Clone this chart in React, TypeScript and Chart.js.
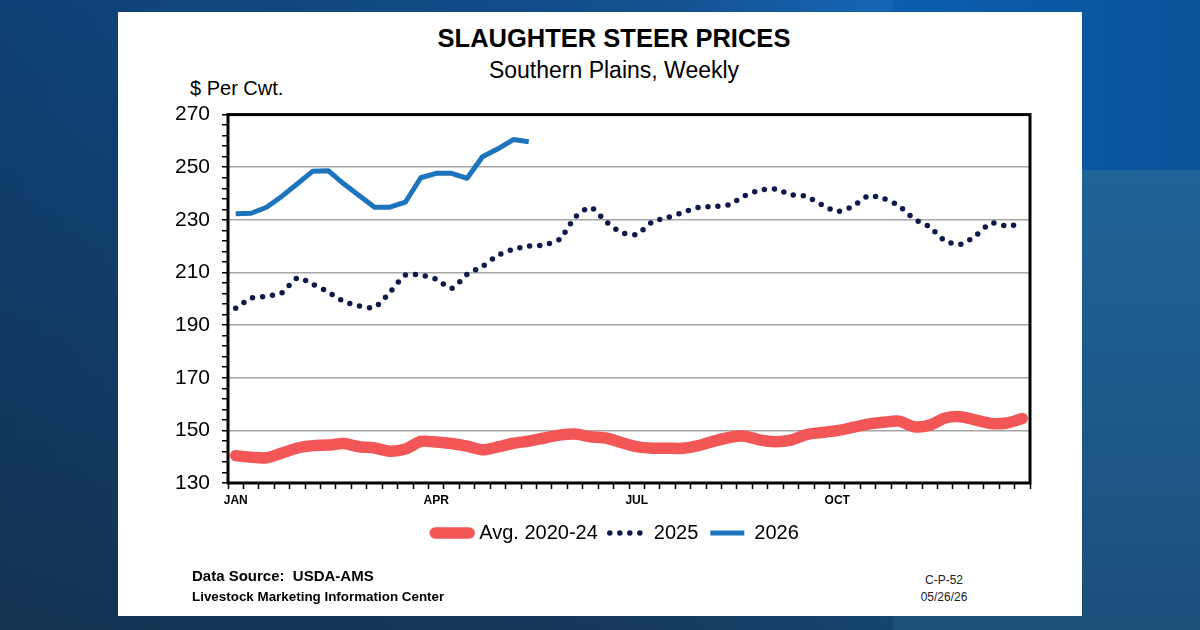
import React, { useEffect, useRef } from 'react';
import { Chart, registerables } from 'chart.js';

Chart.register(...registerables);

const FONT = "'Liberation Sans', Arial, Helvetica, sans-serif";

// 52 weekly categories
const weekNumbers = Array.from({ length: 52 }, (_, i) => `Week ${i + 1}`);

// x tick labels and the week index they sit on
const monthLabels = ['JAN', 'APR', 'JUL', 'OCT'];
const monthWeekIndex = [0, 13, 26, 39];

// $ per cwt
const avg2020to24 = [
  140.4, 139.8, 139.6, 141.4, 143.3, 144.2, 144.4, 145.0, 143.8, 143.3,
  142.1, 142.9, 145.8, 145.6, 145.0, 144.0, 142.6, 143.7, 145.1, 145.9,
  147.1, 148.2, 148.6, 147.6, 147.1, 145.4, 143.8, 143.2, 143.2, 143.2,
  144.2, 145.9, 147.3, 147.8, 146.3, 145.7, 146.3, 148.4, 149.2, 149.9,
  151.1, 152.4, 153.1, 153.5, 151.4, 152.0, 154.7, 155.2, 153.9, 152.6,
  152.8, 154.5,
];

const y2025 = [
  196.4, 200.2, 201.0, 202.3, 207.9, 205.5, 202.6, 199.0, 197.3, 196.8,
  202.5, 209.0, 209.0, 207.4, 204.0, 209.3, 212.3, 216.5, 218.8, 220.0,
  220.5, 222.6, 230.9, 234.7, 229.4, 225.2, 224.5, 229.2, 230.9, 232.8,
  234.7, 235.1, 235.8, 239.1, 241.3, 241.7, 239.6, 238.9, 235.7, 233.2,
  235.1, 239.0, 238.1, 235.3, 230.3, 227.3, 222.0, 220.7, 224.1, 228.8,
  227.7, 228.6,
];

const y2026 = [
  232.3, 232.5, 234.8, 239.0, 243.7, 248.5, 248.7, 243.7, 239.3, 234.8,
  234.8, 236.7, 246.0, 247.7, 247.7, 245.8, 254.0, 257.0, 260.5, 259.7,
];

const framePlugin = {
  id: 'plotFrame',
  afterDatasetsDraw(chart: any) {
    const { ctx, chartArea } = chart;
    const { left, top, right, bottom } = chartArea;
    ctx.save();
    ctx.strokeStyle = '#000';
    ctx.lineWidth = 3;
    ctx.strokeRect(left, top, right - left, bottom - top);
    ctx.restore();
  },
};

// nudge the legend row a little left, as in the original layout
const legendShiftPlugin = {
  id: 'legendShift',
  afterLayout(chart: any) {
    const lg = chart.legend;
    if (lg) {
      lg.left -= 12;
      lg.right -= 12;
    }
  },
};

function SteerChart() {
  const ref = useRef<HTMLCanvasElement | null>(null);

  useEffect(() => {
    if (!ref.current) return;
    const chart = new Chart(ref.current, {
      type: 'line',
      data: {
        labels: weekNumbers,
        datasets: [
          {
            label: 'Avg. 2020-24',
            data: avg2020to24,
            borderColor: '#F25656',
            backgroundColor: '#F25656',
            borderWidth: 11.5,
            borderCapStyle: 'round',
            borderJoinStyle: 'round',
            pointRadius: 0,
            tension: 0.25,
          },
          {
            label: '2025',
            data: y2025,
            borderColor: '#0E1A4A',
            backgroundColor: '#0E1A4A',
            borderWidth: 5.5,
            borderDash: [0, 10],
            borderCapStyle: 'round',
            borderJoinStyle: 'round',
            pointRadius: 0,
            tension: 0.25,
          },
          {
            label: '2026',
            data: y2026,
            borderColor: '#1C75BC',
            backgroundColor: '#1C75BC',
            borderWidth: 5,
            borderCapStyle: 'butt',
            borderJoinStyle: 'round',
            pointRadius: 0,
            tension: 0,
          },
        ],
      },
      options: {
        responsive: false,
        animation: false,
        layout: { padding: { top: 0, right: 50, bottom: 17, left: 0 } },
        plugins: {
          title: { display: false },
          tooltip: { enabled: false },
          legend: {
            position: 'bottom',
            fullSize: false,
            labels: {
              usePointStyle: true,
              pointStyle: 'line',
              pointStyleWidth: 34,
              padding: 12,
              color: '#000',
              font: { family: FONT, size: 20 },
              generateLabels: (chart: any) => {
                const items = (Chart.defaults as any).plugins.legend.labels.generateLabels(chart);
                items.forEach((it: any) => {
                  const ds: any = chart.data.datasets[it.datasetIndex];
                  it.lineDash = ds.borderDash || [];
                  it.lineCap = ds.borderCapStyle || 'butt';
                  it.lineWidth = ds.borderWidth;
                  it.strokeStyle = ds.borderColor;
                });
                return items;
              },
            },
          },
        },
        scales: {
          x: {
            type: 'category',
            offset: true,
            border: { display: false },
            grid: {
              offset: true,
              drawOnChartArea: false,
              drawTicks: true,
              tickLength: 6,
              tickColor: '#000',
              tickWidth: 1.5,
            },
            ticks: {
              autoSkip: false,
              maxRotation: 0,
              minRotation: 0,
              padding: 4,
              color: '#000',
              font: { family: FONT, size: 12, weight: 'bold' },
              callback: (_v: any, i: number) => {
                const k = monthWeekIndex.indexOf(i);
                return k >= 0 ? monthLabels[k] : '';
              },
            },
            afterFit: (s: any) => {
              s.height = 28;
            },
          },
          y: {
            min: 130,
            max: 270,
            border: { display: false },
            grid: {
              color: (c: any) => {
                const v = c.tick ? c.tick.value : undefined;
                if (v === undefined) return 'rgba(0,0,0,0)';
                return (v - 130) % 20 === 0 && v !== 130 && v !== 270 ? '#A6A6A6' : 'rgba(0,0,0,0)';
              },
              lineWidth: 1.5,
              tickLength: 6,
              tickColor: '#000',
              tickWidth: 1.5,
            },
            ticks: {
              stepSize: 4,
              autoSkip: false,
              padding: 12,
              color: '#000',
              font: { family: FONT, size: 21 },
              callback: (v: any) => ((Number(v) - 130) % 20 === 0 ? String(v) : ''),
            },
            afterFit: (s: any) => {
              s.width = 78;
            },
          },
        },
      },
      plugins: [framePlugin, legendShiftPlugin],
    } as any);
    return () => chart.destroy();
  }, []);

  return <canvas ref={ref} width={930} height={480} style={{ width: 930, height: 480, display: 'block' }} />;
}

export default function App() {
  const abs = (l: number, t: number, extra: any = {}) => ({ position: 'absolute' as const, left: l, top: t, ...extra });
  return (
    <div
      style={{
        position: 'absolute',
        left: 0,
        top: 0,
        width: 1200,
        height: 630,
        overflow: 'hidden',
        fontFamily: FONT,
        background:
          'linear-gradient(180deg, rgba(0,0,0,0) 0%, rgba(22,40,52,0.55) 100%), linear-gradient(90deg, #0f4075 0%, #13508f 55%, #1666b6 74%)',
      }}
    >
      <div style={abs(893, 0, { width: 307, height: 170, background: 'linear-gradient(90deg, #0b5eb0, #0a5299)' })} />
      <div style={abs(893, 170, { width: 307, height: 460, background: 'linear-gradient(180deg, #1f6399, #1c4f7a)' })} />
      <div style={abs(118, 12, { width: 964, height: 604, background: '#fff' })} />

      <div style={abs(132, 24, { width: 964, textAlign: 'center', fontSize: 25.5, lineHeight: '28px', fontWeight: 'bold', color: '#000' })}>
        SLAUGHTER STEER PRICES
      </div>
      <div style={abs(132, 57, { width: 964, textAlign: 'center', fontSize: 23, lineHeight: '26px', color: '#000' })}>
        Southern Plains, Weekly
      </div>
      <div style={abs(190, 76, { fontSize: 20, lineHeight: '24px', color: '#000', whiteSpace: 'pre' })}>$ Per Cwt.</div>

      <div style={abs(150, 90, { width: 930, height: 480 })}>
        <SteerChart />
      </div>

      <div style={abs(192, 567, { fontSize: 15, lineHeight: '17px', fontWeight: 'bold', color: '#000', whiteSpace: 'pre' })}>
        Data Source:  USDA-AMS
      </div>
      <div style={abs(192, 589, { fontSize: 13.4, lineHeight: '16px', fontWeight: 'bold', color: '#000', whiteSpace: 'pre' })}>
        Livestock Marketing Information Center
      </div>
      <div style={abs(894, 573, { width: 100, textAlign: 'center', fontSize: 12, lineHeight: '14px', color: '#222' })}>C-P-52</div>
      <div style={abs(894, 590, { width: 100, textAlign: 'center', fontSize: 12, lineHeight: '14px', color: '#222' })}>05/26/26</div>
    </div>
  );
}
